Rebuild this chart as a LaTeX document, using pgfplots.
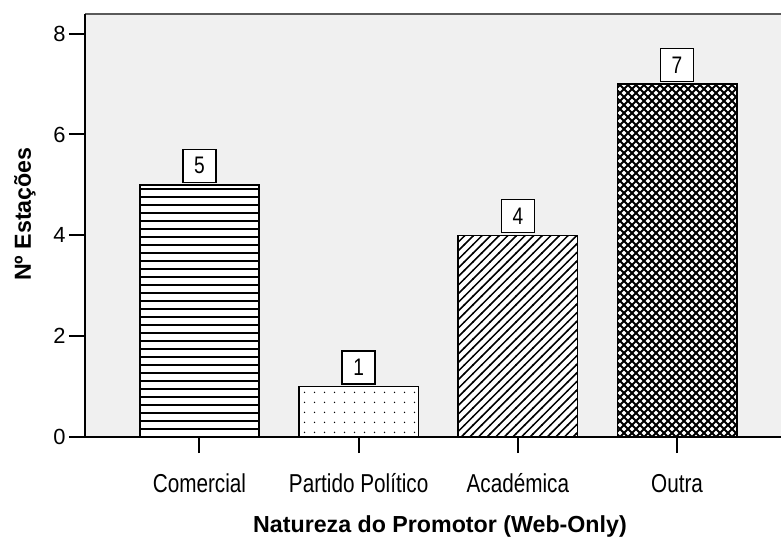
\documentclass[border=0pt]{standalone}
\usepackage{fontspec}
\setmainfont{Liberation Sans}
\newfontfamily\tickfont{Liberation Sans}[FakeStretch=0.8]
\usepackage{pgfplots}
\pgfplotsset{compat=1.18}
\usetikzlibrary{patterns}
\definecolor{bggray}{HTML}{F0F0F0}
\definecolor{framegray}{HTML}{5A5A5A}

% SPSS-like fill patterns
\pgfdeclarepatternformonly{hlines}{\pgfqpoint{-1bp}{0bp}}{\pgfqpoint{9bp}{8bp}}{\pgfqpoint{8bp}{8bp}}{%
  \pgfsetlinewidth{1.3bp}%
  \pgfpathmoveto{\pgfqpoint{-1bp}{4bp}}\pgfpathlineto{\pgfqpoint{9bp}{4bp}}%
  \pgfusepath{stroke}}
\pgfdeclarepatternformonly{spssdots}{\pgfqpoint{0bp}{0bp}}{\pgfqpoint{10bp}{10bp}}{\pgfqpoint{10bp}{10bp}}{%
  \pgfpathcircle{\pgfqpoint{5bp}{5bp}}{0.8bp}%
  \pgfusepath{fill}}
\pgfdeclarepatternformonly{nelines}{\pgfqpoint{-1bp}{-1bp}}{\pgfqpoint{9.6bp}{9.6bp}}{\pgfqpoint{8.6bp}{8.6bp}}{%
  \pgfsetlinewidth{1.5bp}%
  \pgfpathmoveto{\pgfqpoint{-0.5bp}{-0.5bp}}\pgfpathlineto{\pgfqpoint{9.1bp}{9.1bp}}%
  \pgfusepath{stroke}}
\pgfdeclarepatternformonly{xhatch}{\pgfqpoint{-1bp}{-1bp}}{\pgfqpoint{9bp}{9bp}}{\pgfqpoint{8bp}{8bp}}{%
  \pgfsetlinewidth{1.8bp}%
  \pgfpathmoveto{\pgfqpoint{-0.5bp}{-0.5bp}}\pgfpathlineto{\pgfqpoint{8.5bp}{8.5bp}}%
  \pgfpathmoveto{\pgfqpoint{-0.5bp}{8.5bp}}\pgfpathlineto{\pgfqpoint{8.5bp}{-0.5bp}}%
  \pgfusepath{stroke}}

\begin{document}
\begin{tikzpicture}
\begin{axis}[
  scale only axis, width=696bp, height=423bp,
  xmin=-0.719, xmax=3.653, ymin=0, ymax=8.39,
  ybar, bar width=0.75, bar shift=0pt,
  clip=false,
  axis background/.style={fill=bggray},
  axis line style={draw=none},
  xtick={0,1,2,3},
  xticklabels={Comercial, Partido Político, Académica, Outra},
  ytick={0,2,4,6,8},
  tick align=outside, xtick pos=bottom, ytick pos=left,
  major tick length=16bp,
  tick style={black, line width=2bp},
  /pgf/number format/assume math mode=true,
  xticklabel style={font=\tickfont\fontsize{26}{30}\selectfont,
    text height=0.74em, text depth=0.22em, yshift=-29bp},
  yticklabel style={font=\fontsize{22}{26}\selectfont},
  every axis x label/.style={at={(axis description cs:0.51,-0.2246)}, anchor=base,
    font=\bfseries\fontsize{23.3}{27}\selectfont},
  every axis y label/.style={at={(axis description cs:-0.0776,0.527)}, rotate=90, anchor=base,
    font=\bfseries\fontsize{23.3}{27}\selectfont},
  xlabel={Natureza do Promotor (Web-Only)},
  ylabel={Nº Estações},
  every node near coord/.append style={draw=black, fill=white, line width=1.4bp,
    minimum width=33bp, minimum height=33bp, inner sep=0pt, yshift=2bp,
    font=\tickfont\fontsize{24}{28}\selectfont},
]
% white ground under the patterns
\addplot[draw=none, fill=white] coordinates {(0,5) (1,1) (2,4) (3,7)};
% Comercial: horizontal lines
\addplot[draw=black, line width=1.5bp, pattern=hlines, pattern color=black, nodes near coords]
  coordinates {(0,5)};
% Partido Politico: dots
\addplot[draw=black, line width=1.5bp, pattern=spssdots, pattern color=black, nodes near coords]
  coordinates {(1,1)};
% Academica: north east lines
\addplot[draw=black, line width=1.5bp, pattern=nelines, pattern color=black, nodes near coords]
  coordinates {(2,4)};
% Outra: diagonal crosshatch
\addplot[draw=black, line width=1.5bp, pattern=xhatch, pattern color=black, nodes near coords]
  coordinates {(3,7)};

\draw[line width=1.2bp, framegray] (rel axis cs:0,1) -- (rel axis cs:1,1);
\draw[line width=2bp, black] (rel axis cs:0,1) -- (rel axis cs:0,0) -- (rel axis cs:1,0);
\end{axis}
\pgfresetboundingbox
\useasboundingbox ([xshift=-85bp,yshift=-100bp]current axis.south west)
  rectangle ([yshift=14bp]current axis.north east);
\end{tikzpicture}
\end{document}
